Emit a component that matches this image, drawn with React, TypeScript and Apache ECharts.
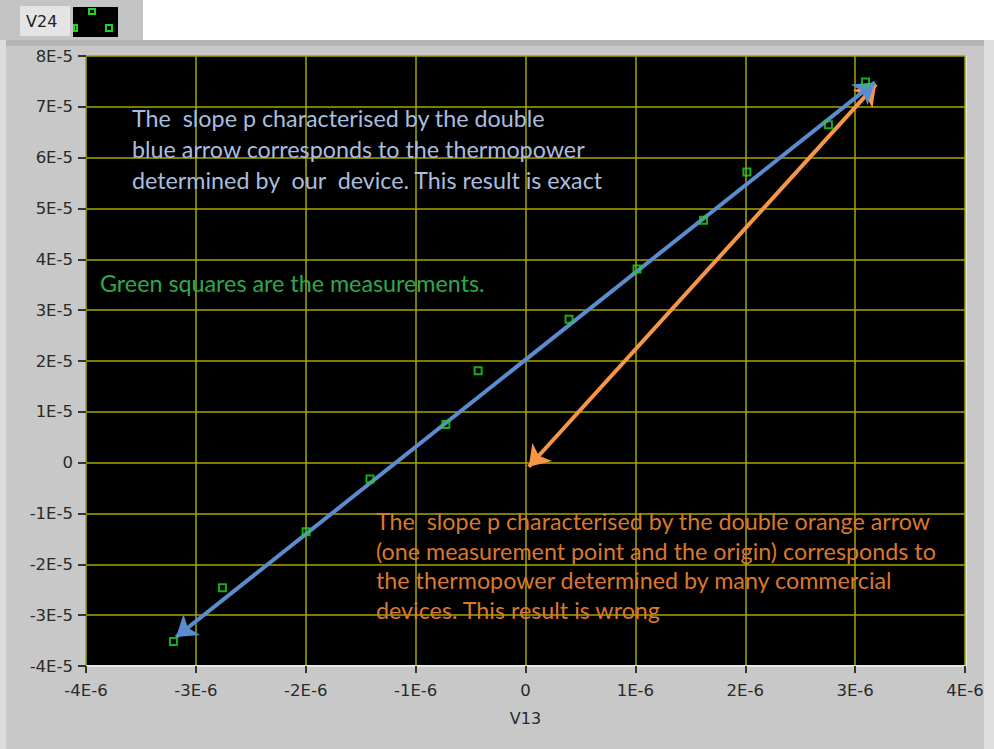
import React, { useEffect, useRef } from "react";
import * as echarts from "echarts";

// Measurements (V13, V24)
const v13Values = [-3.204e-6, -2.758e-6, -1.997e-6, -1.415e-6, -0.725e-6, -0.431e-6, 0.396e-6, 1.015e-6, 1.62e-6, 2.015e-6, 2.757e-6, 3.094e-6];
const v24Values = [-3.52e-5, -2.46e-5, -1.36e-5, -0.32e-5, 0.75e-5, 1.81e-5, 2.82e-5, 3.81e-5, 4.77e-5, 5.72e-5, 6.65e-5, 7.49e-5];

// Double arrows (endpoints in data coordinates)
const blueArrow = [[-3.18e-6, -3.43e-5], [3.18e-6, 7.48e-5]];
const orangeArrow = [[0.03e-6, -0.08e-5], [3.19e-6, 7.44e-5]];

const blueText = [
  "The  slope p characterised by the double",
  "blue arrow corresponds to the thermopower",
  "determined by  our  device. This result is exact",
];
const greenText = ["Green squares are the measurements."];
const orangeText = [
  "The  slope p characterised by the double orange arrow",
  "(one measurement point and the origin) corresponds to",
  "the thermopower determined by many commercial",
  "devices. This result is wrong",
];

const xName = "V13";
const legendName = "V24";

function fmt(v: number): string {
  if (Math.abs(v) < 1e-12) return "0";
  const e = Math.floor(Math.log10(Math.abs(v)) + 1e-9);
  const m = Math.round(v / Math.pow(10, e));
  return `${m}E${e}`;
}

export default function App() {
  const ref = useRef<HTMLDivElement>(null);
  useEffect(() => {
    document.body.style.margin = "0";
    const chart = echarts.init(ref.current!, null, { renderer: "svg" });
    const font = "Lato";
    const fs = 23.3;
    const textEls: any[] = [];
    blueText.forEach((t, i) =>
      textEls.push({
        type: "text", x: 132, y: 118 + i * 31, z: 10,
        style: { text: t, fill: "#a9bddf", font: `${fs}px ${font}`, textVerticalAlign: "middle" },
      })
    );
    greenText.forEach((t, i) =>
      textEls.push({
        type: "text", x: 100, y: 283 + i * 31, z: 10,
        style: { text: t, fill: "#2ea84e", font: `${fs}px ${font}`, textVerticalAlign: "middle" },
      })
    );
    orangeText.forEach((t, i) =>
      textEls.push({
        type: "text", x: 376, y: 521 + i * 29.5, z: 10,
        style: { text: t, fill: "#d9782e", font: `${fs}px ${font}`, textVerticalAlign: "middle" },
      })
    );
    const labelStyle = { color: "#2a2a2a", fontSize: 16.5, fontFamily: "DejaVu Sans" };
    const option: any = {
      animation: false,
      backgroundColor: "#c8c8c8",
      grid: {
        left: 86, top: 56, width: 879, height: 610,
        show: true, backgroundColor: "#000", borderWidth: 0,
      },
      xAxis: {
        type: "value", min: -4e-6, max: 4e-6, interval: 1e-6,
        name: xName, nameLocation: "middle", nameGap: 44,
        nameTextStyle: { ...labelStyle, fontSize: 16 },
        axisLine: { show: true, onZero: false, lineStyle: { color: "#e4e4e4", width: 2 } },
        axisTick: { show: true, length: 7, lineStyle: { color: "#333", width: 2 } },
        axisLabel: { formatter: fmt, ...labelStyle, margin: 16 },
        splitLine: { show: true, lineStyle: { color: "#a6a600", width: 1.5 } },
      },
      yAxis: {
        type: "value", min: -4e-5, max: 8e-5, interval: 1e-5,
        axisLine: { show: false, onZero: false },
        axisTick: { show: true, length: 8, lineStyle: { color: "#333", width: 2 } },
        axisLabel: { formatter: fmt, ...labelStyle, margin: 13 },
        splitLine: { show: true, lineStyle: { color: "#a6a600", width: 1.5 } },
      },
      series: [
        {
          type: "lines", coordinateSystem: "cartesian2d", z: 3,
          symbol: ["arrow", "arrow"], symbolSize: 20,
          lineStyle: { color: "#f79646", width: 4, opacity: 1 },
          data: [{ coords: orangeArrow }],
        },
        {
          type: "lines", coordinateSystem: "cartesian2d", z: 4,
          symbol: ["arrow", "arrow"], symbolSize: 20,
          lineStyle: { color: "#5b8ccf", width: 4, opacity: 1 },
          data: [{ coords: blueArrow }],
        },
        {
          type: "scatter", z: 5, symbol: "rect", symbolSize: 7,
          itemStyle: { color: "rgba(0,0,0,0)", borderColor: "#1fd61f", borderWidth: 2 },
          data: v13Values.map((x, i) => [x, v24Values[i]]),
        },
      ],
      graphic: [
        { type: "rect", shape: { x: 0, y: 0, width: 994, height: 40 }, style: { fill: "#ffffff" }, z: 0 },
        { type: "rect", shape: { x: 0, y: 40, width: 994, height: 6 }, style: { fill: "#b4b4b4" }, z: 0 },
        { type: "rect", shape: { x: 0, y: 40, width: 6, height: 709 }, style: { fill: "#dcdcdc" }, z: 0 },
        { type: "rect", shape: { x: 984, y: 40, width: 10, height: 709 }, style: { fill: "#dedede" }, z: 0 },
        { type: "rect", shape: { x: 965, y: 56, width: 2, height: 612 }, style: { fill: "#e4e4e4" }, z: 0 },
        { type: "rect", shape: { x: 0, y: 0, width: 143, height: 40 }, style: { fill: "#c4c4c4" }, z: 1 },
        { type: "rect", shape: { x: 20, y: 6, width: 50, height: 30 }, style: { fill: "#e4e4e4" }, z: 2 },
        { type: "text", x: 26, y: 21, z: 3, style: { text: legendName, fill: "#222", font: "16px DejaVu Sans", textVerticalAlign: "middle" } },
        { type: "rect", shape: { x: 73, y: 7, width: 45, height: 30 }, style: { fill: "#000" }, z: 2 },
        { type: "rect", shape: { x: 89, y: 9, width: 6, height: 5 }, style: { fill: "none", stroke: "#1fd61f", lineWidth: 2 }, z: 3 },
        { type: "rect", shape: { x: 106, y: 25, width: 6, height: 6 }, style: { fill: "none", stroke: "#1fd61f", lineWidth: 2 }, z: 3 },
        { type: "rect", shape: { x: 74, y: 25, width: 3, height: 6 }, style: { fill: "none", stroke: "#1fd61f", lineWidth: 2 }, z: 3 },
        ...textEls,
      ],
    };
    chart.setOption(option);
    return () => chart.dispose();
  }, []);
  return <div ref={ref} style={{ position: "absolute", left: 0, top: 0, width: 994, height: 749 }} />;
}
